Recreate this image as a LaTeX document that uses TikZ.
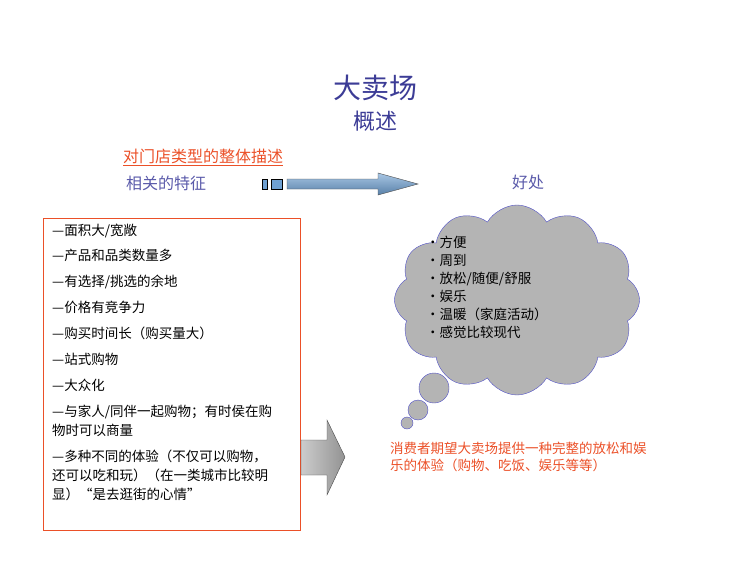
\documentclass[tikz,border=0pt]{standalone}
\usepackage{fontspec}
\usepackage{xcolor}
\usetikzlibrary{shapes.symbols}
\newfontfamily\cjk{Noto Sans CJK SC}
\definecolor{titleblue}{RGB}{60,60,150}
\definecolor{featureblue}{RGB}{90,90,170}
\definecolor{orangered}{RGB}{235,80,40}
\definecolor{cloudgray}{RGB}{180,180,180}
\definecolor{cloudline}{RGB}{80,80,200}
\definecolor{arrowblue}{RGB}{110,160,210}
\tikzstyle{item}=[anchor=north west,inner sep=0pt,font=\cjk\fontsize{13.5}{19}\selectfont,align=left]
\tikzstyle{bubble}=[circle,draw=cloudline,fill=cloudgray,inner sep=0pt]
\begin{document}
\begin{tikzpicture}[x=1pt,y=-1pt]
  \useasboundingbox (0,0) rectangle (750,562);
  %% Titles
  \node[font=\cjk\fontsize{28}{30}\selectfont,text=titleblue] (title) at (375,88) {大卖场};
  \node[font=\cjk\fontsize{22}{24}\selectfont,text=titleblue] (subtitle) at (375,121) {概述};
  \node[font=\cjk\fontsize{16}{17}\selectfont,text=orangered] (overall) at (203,157) {\underline{对门店类型的整体描述}};
  \node[font=\cjk\fontsize{16}{17}\selectfont,text=featureblue] (features) at (166,183) {相关的特征};
  \node[font=\cjk\fontsize{16}{17}\selectfont,text=featureblue] (benefits) at (528,182) {好处};
  %% Top arrow
  \draw[fill=arrowblue] (262,179) rectangle (267,189);
  \draw[fill=arrowblue] (271,179) rectangle (282,189);
  \draw[top color=arrowblue!60,bottom color=arrowblue!80!black,draw=black!70]
    (287,179) -- (378,179) -- (378,173) -- (418,184) -- (378,195) -- (378,189) -- (287,189) -- cycle;
  %% Feature box
  \draw[orangered] (43,218) rectangle (300,530);
  \node[item] (f1) at (52,224) {—面积大/宽敞};
  \node[item] (f2) at (52,249) {—产品和品类数量多};
  \node[item] (f3) at (52,275) {—有选择/挑选的余地};
  \node[item] (f4) at (52,301) {—价格有竞争力};
  \node[item] (f5) at (52,327) {—购买时间长（购买量大）};
  \node[item] (f6) at (52,353) {—站式购物};
  \node[item] (f7) at (52,379) {—大众化};
  \node[item] (f8) at (52,405) {—与家人/同伴一起购物；有时侯在购\\物时可以商量};
  \node[item] (f9) at (52,450) {—多种不同的体验（不仅可以购物，\\还可以吃和玩）（在一类城市比较明\\显）“是去逛街的心情”};
  %% Gray arrow
  \draw[left color=gray!40,right color=gray!85,draw=black!70]
    (301,440) -- (327,440) -- (327,420) -- (345,457) -- (327,495) -- (327,475) -- (301,475) -- cycle;
  %% Cloud
  \node[cloud,cloud puffs=12,cloud puff arc=120,aspect=1.3,draw=cloudline,fill=cloudgray,
    minimum width=245,minimum height=190] (cloud) at (517,300) {};
  \node[bubble,minimum size=30] (b1) at (434,388) {};
  \node[bubble,minimum size=20] (b2) at (418,410) {};
  \node[bubble,minimum size=12] (b3) at (407,423) {};
  \node[item,font=\cjk\fontsize{13.5}{18}\selectfont] (perks) at (426,236)
    {•方便\\•周到\\•放松/随便/舒服\\•娱乐\\•温暖（家庭活动）\\•感觉比较现代};
  %% Conclusion
  \node[item,text=orangered,font=\cjk\fontsize{13.5}{17}\selectfont] (expect) at (390,442)
    {消费者期望大卖场提供一种完整的放松和娱\\乐的体验（购物、吃饭、娱乐等等）};
\end{tikzpicture}
\end{document}
